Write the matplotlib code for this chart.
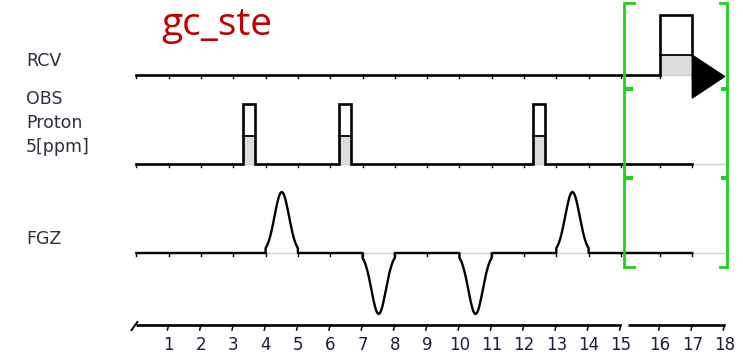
import numpy as np
import matplotlib
matplotlib.use("Agg")
import matplotlib.pyplot as plt
from matplotlib.patches import Polygon, Rectangle

# ---- sequence timing (ms) -------------------------------------------------
time_ticks = list(range(1, 19))
axis_break = 15.0          # time axis is drawn broken here
channel_end = 17.0         # end of the drawn channel traces
baseline_end = 18.1        # faint zero line continues to here

# OBS channel: hard RF pulses
obs_pulse_start = [3.29, 6.26, 12.27]
obs_pulse_width = [0.38, 0.38, 0.38]
obs_pulse_level = [0.46, 0.46, 0.46]      # shaded relative amplitude

# RCV channel: receiver gate followed by the acquisition marker
rcv_gate_start = 16.0
rcv_gate_end = 17.0
rcv_gate_level = 0.33
acq_end = 18.0

# FGZ channel: gradient lobes
grad_start = [4.0, 7.0, 10.0, 13.0]
grad_end = [5.0, 8.0, 11.0, 14.0]
grad_amp = [1.0, -1.0, -1.0, 1.0]

# acquisition window bracket
window_start = 15.005
window_end = 18.06

# ---- layout ---------------------------------------------------------------
W, H = 743, 358
ROW = lambda r: H - r                     # pixel row -> y data
base_rcv, base_obs, base_fgz, base_axis = ROW(75), ROW(164), ROW(253), ROW(325)
pulse_h = 60.0
grad_h = 61.0
LW = 1.9
GREEN = "#1ed21e"

# broken time scale: a small gap is inserted just after the break
E, GAP = 0.01, 0.21
K = 1 + GAP / E


def fwd(t):
    t = np.asarray(t, float)
    return np.where(t <= axis_break, t,
                    np.where(t <= axis_break + E, axis_break + (t - axis_break) * K, t + GAP))


def inv(u):
    u = np.asarray(u, float)
    return np.where(u <= axis_break, u,
                    np.where(u <= axis_break + E + GAP, axis_break + (u - axis_break) / K, u - GAP))


fig = plt.figure(figsize=(W / 100, H / 100), dpi=100)
ax = fig.add_axes([0, 0, 1, 1])
ax.set_xscale("function", functions=(fwd, inv))
ax.set_xlim(-4.223, 18.57)
ax.set_ylim(0, H)
ax.axis("off")


def channel_ticks(y0):
    for t in range(0, int(channel_end) + 1):
        ax.plot([t, t], [y0, y0 - 3], color="black", lw=1.0, zorder=3)


def zero_line(y0):
    ax.plot([0, baseline_end], [y0, y0], color="#cfcfcf", lw=1.0, zorder=1)


# ---- RCV -------------------------------------------------------------------
zero_line(base_rcv)
ax.add_patch(Rectangle((rcv_gate_start, base_rcv), rcv_gate_end - rcv_gate_start,
                       rcv_gate_level * pulse_h, facecolor="#dcdcdc", edgecolor="none", zorder=2))
ax.plot([0, rcv_gate_start, rcv_gate_start, rcv_gate_end, rcv_gate_end],
        [base_rcv, base_rcv, base_rcv + pulse_h, base_rcv + pulse_h,
         base_rcv + rcv_gate_level * pulse_h],
        color="black", lw=LW, zorder=4, solid_joinstyle="miter")
ax.plot([rcv_gate_start, rcv_gate_end], [base_rcv + rcv_gate_level * pulse_h] * 2,
        color="black", lw=1.3, zorder=4)
ax.add_patch(Polygon([(rcv_gate_end, base_rcv + rcv_gate_level * pulse_h),
                      (rcv_gate_end, base_rcv - 23),
                      (acq_end, base_rcv - 1.5)],
                     closed=True, facecolor="black", edgecolor="black", lw=1, zorder=4))
channel_ticks(base_rcv)

# ---- OBS -------------------------------------------------------------------
zero_line(base_obs)
xs, ys = [0.0], [base_obs]
for s, w, lv in zip(obs_pulse_start, obs_pulse_width, obs_pulse_level):
    ax.add_patch(Rectangle((s, base_obs), w, lv * pulse_h, facecolor="#dcdcdc",
                           edgecolor="none", zorder=2))
    ax.plot([s, s + w], [base_obs + lv * pulse_h] * 2, color="black", lw=1.3, zorder=4)
    xs += [s, s, s + w, s + w]
    ys += [base_obs, base_obs + pulse_h, base_obs + pulse_h, base_obs]
xs.append(channel_end)
ys.append(base_obs)
ax.plot(xs, ys, color="black", lw=LW, zorder=4, solid_joinstyle="miter")
channel_ticks(base_obs)

# ---- FGZ -------------------------------------------------------------------
zero_line(base_fgz)
xs, ys = [0.0], [base_fgz]
for s, e, a in zip(grad_start, grad_end, grad_amp):
    tt = np.linspace(s, e, 41)
    c, sig = (s + e) / 2, (e - s) / 4.5
    shape = np.exp(-0.5 * ((tt - c) / sig) ** 2)
    xs += [s] + list(tt) + [e]
    ys += [base_fgz] + list(base_fgz + a * grad_h * shape) + [base_fgz]
xs.append(channel_end)
ys.append(base_fgz)
ax.plot(xs, ys, color="black", lw=1.7, zorder=4)
channel_ticks(base_fgz)

# ---- time axis -------------------------------------------------------------
ax.plot([0, axis_break], [base_axis, base_axis], color="black", lw=LW, zorder=4,
        solid_capstyle="butt")
ax.plot([axis_break + E, acq_end], [base_axis, base_axis], color="black", lw=LW, zorder=4,
        solid_capstyle="butt")
ax.plot([-0.15, 0.03], [base_axis - 5, base_axis + 3], color="black", lw=1.4, zorder=4)
for t in time_ticks:
    ax.plot([t, t - 0.04], [base_axis, base_axis - 5], color="black", lw=1.1, zorder=4)
    ax.text(t, ROW(345), str(t), ha="center", va="center", fontsize=12,
            family="DejaVu Sans", color="#1c1c3a")

# ---- acquisition window bracket ---------------------------------------------
top, bot = ROW(3), ROW(267)
for xb, d in [(window_start, 0.2), (window_end, -0.2)]:
    ax.plot([xb + d, xb, xb, xb + d], [top, top, bot, bot], color=GREEN, lw=2.0,
            zorder=5, solid_joinstyle="miter")
    for r in (ROW(89), ROW(178)):
        ax.plot([xb, xb + d * 0.8], [r, r], color=GREEN, lw=3.0, zorder=5,
                solid_capstyle="butt")

# ---- labels ----------------------------------------------------------------
lab = dict(fontsize=12.5, family="DejaVu Sans", color="#2e2e3e", ha="left", va="center")
fig.text(26 / W, 1 - 61 / H, "RCV", **lab)
fig.text(26 / W, 1 - 99 / H, "OBS", **lab)
fig.text(26 / W, 1 - 123 / H, "Proton", **lab)
fig.text(26 / W, 1 - 147 / H, "5[ppm]", **lab)
fig.text(26 / W, 1 - 239 / H, "FGZ", **lab)
fig.text(161 / W, 1 - 35 / H, "gc_ste", fontsize=28, family="Open Sans",
         color="#c00000", ha="left", va="baseline")

fig.savefig("out.png", dpi=100)
